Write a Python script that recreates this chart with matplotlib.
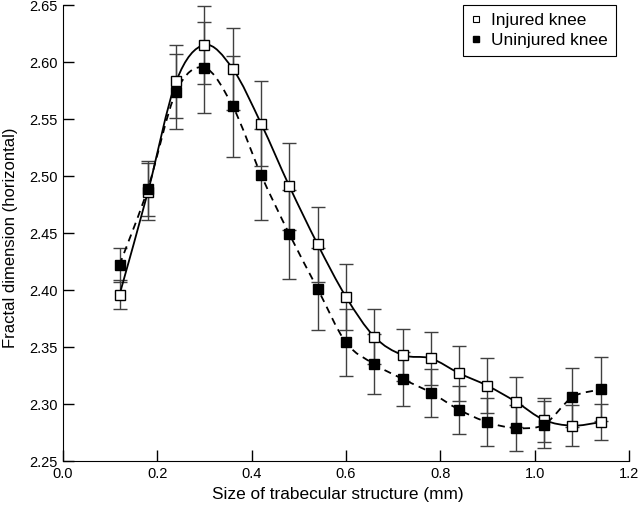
import numpy as np
import matplotlib
matplotlib.use("Agg")
import matplotlib.pyplot as plt
from matplotlib.path import Path
from matplotlib.patches import PathPatch
from matplotlib.lines import Line2D

plt.rcParams['font.family'] = ['Liberation Sans', 'DejaVu Sans']

# trabecular size (mm)
size_mm = [0.12, 0.18, 0.24, 0.30, 0.36, 0.42, 0.48, 0.54, 0.60,
           0.66, 0.72, 0.78, 0.84, 0.90, 0.96, 1.02, 1.08, 1.14]

# injured knee
injured = [2.396, 2.486, 2.583, 2.615, 2.594, 2.546, 2.491, 2.440, 2.394,
           2.359, 2.343, 2.340, 2.327, 2.316, 2.302, 2.286, 2.281, 2.284]
injured_err = [0.013, 0.025, 0.032, 0.034, 0.036, 0.037, 0.038, 0.033, 0.029,
               0.024, 0.023, 0.023, 0.024, 0.024, 0.022, 0.019, 0.018, 0.016]

# uninjured knee
uninjured = [2.422, 2.489, 2.574, 2.595, 2.561, 2.501, 2.449, 2.401, 2.354,
             2.335, 2.322, 2.310, 2.295, 2.284, 2.279, 2.282, 2.306, 2.313]
uninjured_err = [0.015, 0.024, 0.033, 0.040, 0.044, 0.040, 0.039, 0.036, 0.029,
                 0.026, 0.024, 0.021, 0.021, 0.021, 0.020, 0.021, 0.026, 0.028]


def smooth_path(x, y):
    """Catmull-Rom curve through the points, as cubic bezier segments."""
    x = np.asarray(x, float)
    y = np.asarray(y, float)
    px = np.concatenate([[2 * x[0] - x[1]], x, [2 * x[-1] - x[-2]]])
    py = np.concatenate([[2 * y[0] - y[1]], y, [2 * y[-1] - y[-2]]])
    verts = [(x[0], y[0])]
    codes = [Path.MOVETO]
    for i in range(1, len(px) - 2):
        c1 = (px[i] + (px[i + 1] - px[i - 1]) / 6, py[i] + (py[i + 1] - py[i - 1]) / 6)
        c2 = (px[i + 1] - (px[i + 2] - px[i]) / 6, py[i + 1] - (py[i + 2] - py[i]) / 6)
        verts += [c1, c2, (px[i + 1], py[i + 1])]
        codes += [Path.CURVE4] * 3
    return Path(verts, codes)


fig = plt.figure(figsize=(6.4, 5.07), dpi=100)
ax = fig.add_axes([0.0984, 0.0907, 0.8844, 0.8994])

ax.errorbar(size_mm, injured, yerr=injured_err, fmt='none', ecolor='#404040',
            elinewidth=1, capsize=5, capthick=1, zorder=1)
ax.errorbar(size_mm, uninjured, yerr=uninjured_err, fmt='none', ecolor='#404040',
            elinewidth=1, capsize=5, capthick=1, zorder=1)

ax.add_patch(PathPatch(smooth_path(size_mm, injured), facecolor='none',
                       edgecolor='black', lw=1.3, zorder=2))
ax.add_patch(PathPatch(smooth_path(size_mm, uninjured), facecolor='none',
                       edgecolor='black', lw=1.3, linestyle=(0, (4, 3)), zorder=2))

ax.plot(size_mm, injured, 's', ms=6.5, mfc='white', mec='black', mew=1, zorder=3)
ax.plot(size_mm, uninjured, 's', ms=6.5, mfc='black', mec='black', mew=1, zorder=3)

ax.set_xlim(0.0, 1.2)
ax.set_ylim(2.25, 2.65)
ax.set_xticks(np.arange(0, 1.21, 0.2))
ax.set_yticks(np.arange(2.25, 2.651, 0.05))
ax.xaxis.set_major_formatter(plt.FormatStrFormatter('%.1f'))
ax.yaxis.set_major_formatter(plt.FormatStrFormatter('%.2f'))
ax.tick_params(direction='in', length=8, width=1, labelsize=10.5, pad=4)
ax.spines['top'].set_visible(False)
ax.spines['right'].set_visible(False)

ax.set_xlabel('Size of trabecular structure (mm)', fontsize=12.4)
ax.set_ylabel('Fractal dimension (horizontal)', fontsize=12)
ax.xaxis.set_label_coords(0.485, -0.058)
ax.yaxis.set_label_coords(-0.08, 0.49)

handles = [Line2D([], [], ls='none', marker='s', ms=5, mfc='white', mec='black', mew=0.8),
           Line2D([], [], ls='none', marker='s', ms=5, mfc='black', mec='black')]
leg = ax.legend(handles, ['Injured knee', 'Uninjured knee'], loc='upper right',
                bbox_to_anchor=(0.977, 1.0), fontsize=12.4, fancybox=False,
                framealpha=1, edgecolor='black', handlelength=0.6, handletextpad=0.6,
                borderpad=0.45, labelspacing=0.3, borderaxespad=0)
leg.get_frame().set_linewidth(0.8)

fig.savefig('out.png', dpi=100)
